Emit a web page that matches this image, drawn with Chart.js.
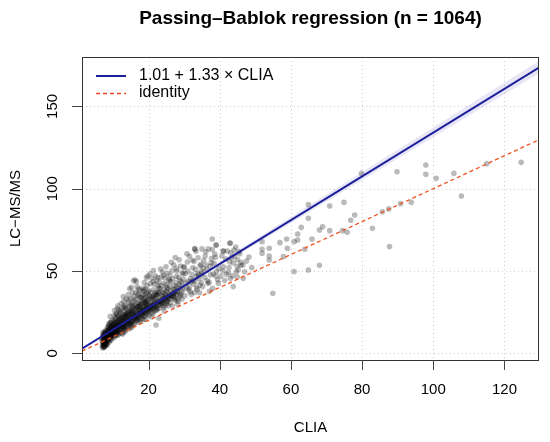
<!DOCTYPE html>
<html>
<head>
<meta charset="utf-8">
<script src="https://cdn.jsdelivr.net/npm/chart.js@4/dist/chart.umd.min.js"></script>
<style>
html,body{margin:0;padding:0;background:#fff;}
canvas{display:block;}
</style>
</head>
<body>
<canvas id="c" width="550" height="442"></canvas>
<script>
// ---- data ----
const clia = [
 7.0,7.2,7.4,7.1,7.6,7.8,7.3,7.5,7.9,7.7,
 7.2,7.4,7.6,7.8,8.0,7.1,7.3,7.5,7.7,7.9,
 6.9,7.0,7.3,7.6,7.8,8.0,7.4,7.2,7.7,7.5,
 7.1,7.4,7.9,7.6,7.3,7.8,8.0,7.5,7.2,7.7,
 8.2,8.4,8.6,8.8,9.0,9.2,9.4,9.6,9.8,8.3,
 8.5,8.7,8.9,9.1,9.3,9.5,9.7,9.9,8.1,8.6,
 8.8,9.0,9.2,9.4,9.6,9.8,8.4,8.2,9.1,9.5,
 8.3,8.7,9.3,9.7,9.9,8.9,8.5,9.0,9.6,9.4,
 8.1,8.6,9.2,9.8,8.4,9.0,9.5,8.8,9.3,9.9,
 10.1,10.3,10.5,10.7,10.9,11.1,11.3,11.5,11.7,11.9,
 10.2,10.4,10.6,10.8,11.0,11.2,11.4,11.6,11.8,10.0,
 10.3,10.8,11.3,11.8,10.5,11.0,11.5,10.1,10.6,11.1,
 10.4,10.9,11.4,11.9,10.2,10.7,11.2,11.7,10.0,11.6,
 10.6,11.1,11.6,10.3,10.8,11.3,11.8,11.4,10.9,11.0,
 12.1,12.3,12.5,12.7,12.9,13.1,13.3,13.5,13.7,13.9,
 12.2,12.4,12.6,12.8,13.0,13.2,13.4,13.6,13.8,12.0,
 12.3,12.8,13.3,13.8,12.5,13.0,13.5,12.6,13.1,13.6,
 12.4,12.9,13.4,13.9,12.1,12.7,13.2,13.7,12.2,13.0,
 12.7,13.4,12.9,13.6,13.3,
 14.1,14.3,14.5,14.7,14.9,15.1,15.3,15.5,15.7,15.9,
 14.2,14.4,14.6,14.8,15.0,15.2,15.4,15.6,15.8,14.0,
 14.3,14.8,15.3,15.8,14.5,15.0,15.5,14.6,15.1,15.6,
 14.4,14.9,15.4,15.9,14.2,14.7,15.2,15.7,14.1,15.0,
 16.1,16.3,16.5,16.7,16.9,17.1,17.3,17.5,17.7,17.9,
 16.2,16.4,16.6,16.8,17.0,17.2,17.4,17.6,17.8,16.0,
 16.3,16.8,17.3,17.8,16.5,17.0,17.5,16.6,17.1,17.6,
 16.4,16.9,17.4,17.9,16.2,16.7,17.2,17.7,15.8,15.2,
 18.1,18.3,18.5,18.7,18.9,19.1,19.3,19.5,19.7,19.9,
 18.2,18.4,18.6,18.8,19.0,19.2,19.4,19.6,19.8,18.0,
 18.3,18.8,19.3,19.8,18.5,19.0,19.5,18.6,19.1,19.6,
 18.4,18.9,19.4,19.9,18.2,18.7,19.2,19.7,18.6,19.4,
 20.1,20.4,20.7,21.0,21.3,21.6,21.9,22.2,22.5,22.8,
 20.2,20.5,20.8,21.1,21.4,21.7,22.0,22.3,22.6,22.9,
 20.3,20.9,21.5,22.1,22.7,20.6,21.2,21.8,22.4,20.0,
 20.4,21.0,21.6,22.2,22.8,20.7,21.3,21.9,22.5,21.1,
 22.1,22.9,21.4,20.8,22.6,
 23.1,23.4,23.7,24.0,24.3,24.6,24.9,25.2,25.5,25.8,
 23.2,23.5,23.8,24.1,24.4,24.7,25.0,25.3,25.6,25.9,
 23.3,23.9,24.5,25.1,25.7,23.6,24.2,24.8,25.4,23.0,
 23.4,24.0,24.6,25.2,25.8,23.7,24.3,24.9,25.5,24.4,
 26.1,26.5,26.9,27.3,27.7,28.1,28.5,28.9,29.3,29.7,
 26.2,26.6,27.0,27.4,27.8,28.2,28.6,29.0,29.4,29.8,
 26.3,27.1,27.9,28.7,29.5,26.8,27.6,28.4,29.2,26.0,
 26.4,27.2,28.0,28.8,29.6,27.0,27.8,28.6,29.4,28.2,
 27.5,28.3,29.1,26.7,29.9,
 30.2,30.7,31.2,31.7,32.2,32.7,33.2,33.7,34.2,34.7,
 30.4,30.9,31.4,31.9,32.4,32.9,33.4,33.9,34.4,34.9,
 30.5,31.5,32.5,33.5,34.5,31.0,32.0,33.0,34.0,30.0,
 30.8,31.8,32.8,33.8,34.8,31.3,32.3,33.3,34.3,33.0,
 35.2,35.8,36.4,37.0,37.6,38.2,38.8,39.4,36.1,37.3,
 35.5,36.7,37.9,39.1,35.0,36.2,37.4,38.6,39.8,38.0,
 35.9,37.1,38.4,39.6,36.5,37.7,38.9,35.4,39.0,36.8,
 40.3,41.0,41.7,42.4,43.1,43.8,44.5,45.2,40.6,41.4,
 42.1,42.8,43.5,44.2,44.9,45.6,40.9,41.9,43.0,44.0,
 45.0,45.9,41.0,42.9,44.6,43.3,46.0,45.4,42.6,44.9,
 46.5,47.5,47.0,46.6,48.2,49.0,43.8,
 8.5,9.0,9.5,10.0,10.5,11.0,11.5,12.0,12.5,13.0,
 13.5,14.0,14.5,15.0,15.5,16.0,16.5,17.0,17.5,18.0,
 18.5,19.0,19.5,20.0,20.5,21.0,21.5,22.0,22.5,23.0,
 23.5,24.0,24.5,25.0,25.5,26.0,26.5,27.0,27.5,28.0,
 8.3,8.8,9.3,9.8,10.3,10.8,11.3,11.8,12.3,12.8,
 13.3,13.8,14.3,14.8,15.3,15.8,16.3,16.8,17.3,17.8,
 18.3,18.8,19.3,19.8,20.3,20.8,21.3,21.8,22.3,22.8,
 23.3,23.8,24.3,24.8,25.3,25.8,26.3,26.8,27.3,27.8,
 8.6,9.1,9.6,10.1,10.6,11.1,11.6,12.1,12.6,13.1,
 13.6,14.1,14.6,15.1,15.6,16.1,16.6,17.1,17.6,18.1,
 18.6,19.1,19.6,20.1,20.6,21.1,21.6,22.1,22.6,23.1,
 7.6,7.8,8.0,8.2,7.4,7.9,8.1,7.7,8.3,7.5,
 124.7,115.0,105.8,107.9,100.8,97.9,97.9,89.8,93.8,90.8,
 87.5,85.7,82.9,87.7,79.8,74.9,70.9,77.9,76.8,75.8,
 74.5,70.9,68.9,68.0,65.9,64.9,64.9,62.9,61.9,61.9,
 60.9,58.8,59.0,56.9,57.9,63.9,64.9,68.0,60.9,53.9,
 53.9,53.9,51.9,51.9,51.9,54.9,42.9,37.9,39.0,33.0,
 35.0,41.0
];
const lcmsms = [
 4.1,5.3,6.8,8.2,3.6,5.9,9.7,7.4,4.8,11.2,
 6.2,3.9,9.1,7.0,5.2,10.4,4.6,12.1,8.8,6.1,
 7.5,9.0,11.0,4.4,13.0,8.0,6.0,10.6,9.9,5.4,
 3.2,8.5,10.1,12.6,5.7,7.2,14.0,3.8,12.8,6.6,
 6.4,9.5,12.2,8.0,14.6,10.3,11.8,16.2,13.4,4.9,
 11.0,7.3,15.9,9.2,13.0,17.8,10.6,12.4,8.6,14.1,
 18.0,6.9,12.7,15.3,9.6,20.1,5.6,10.8,11.3,14.0,
 13.2,16.5,8.4,12.0,16.9,10.0,7.7,17.2,11.5,19.0,
 9.8,12.9,22.4,15.0,15.5,13.6,8.1,11.6,18.7,10.9,
 12.3,14.8,10.2,17.5,13.6,19.2,15.1,11.4,16.8,21.0,
 9.4,16.0,20.6,12.9,14.7,10.8,18.3,13.9,24.5,15.6,
 22.8,11.7,13.0,17.1,18.8,23.6,20.2,13.1,15.4,12.6,
 25.9,15.9,16.6,14.4,17.9,21.5,27.2,18.9,11.0,22.0,
 14.1,12.2,26.3,19.6,10.9,22.9,12.5,28.8,24.1,17.0,
 14.2,17.6,12.1,19.8,15.3,22.1,16.7,13.8,20.4,18.2,
 24.6,15.0,27.3,13.2,17.9,25.5,29.1,21.0,15.4,20.9,
 30.2,22.6,12.9,24.0,18.9,31.4,23.7,16.3,19.4,26.8,
 21.8,16.1,27.9,17.3,26.0,23.4,14.6,33.0,18.0,28.4,
 11.7,20.0,34.5,22.7,15.9,
 16.2,19.4,22.8,17.6,25.3,20.1,15.8,23.6,28.0,21.2,
 27.2,30.5,18.4,21.7,33.2,26.3,19.0,31.0,17.4,24.4,
 35.6,28.7,24.2,19.9,14.7,22.3,36.8,26.1,29.5,25.0,
 32.3,15.6,28.9,34.4,20.6,39.2,17.1,23.0,23.5,18.1,
 18.3,21.6,25.2,19.7,27.9,23.0,30.8,20.9,26.4,33.6,
 29.1,37.0,22.1,24.7,35.3,18.9,28.2,38.4,22.8,31.9,
 24.2,40.3,26.6,29.7,33.0,21.4,25.8,43.5,36.1,19.6,
 27.0,30.3,34.2,24.9,44.6,20.2,39.0,28.6,44.0,40.0,
 21.0,24.3,27.6,22.5,30.9,26.1,33.8,23.7,29.4,36.7,
 32.0,39.6,25.1,28.3,35.2,20.7,31.1,41.2,27.0,34.1,
 26.8,43.0,29.9,24.4,37.5,22.6,28.7,33.1,39.0,25.6,
 35.6,27.4,45.8,31.8,23.2,38.3,30.2,46.9,20.4,36.0,
 23.1,27.0,30.5,24.9,34.1,28.3,37.0,26.2,32.2,39.6,
 35.0,42.3,27.8,31.2,38.6,25.5,33.8,44.1,29.3,36.4,
 29.5,45.5,32.6,27.1,40.8,36.9,24.0,30.9,35.1,38.1,
 48.2,33.2,41.9,35.7,31.4,26.5,43.5,47.0,26.8,29.0,
 17.2,21.3,50.3,22.0,46.0,
 27.4,31.0,35.2,29.0,38.7,33.1,41.6,30.4,36.8,44.0,
 39.5,46.1,32.0,34.6,42.5,28.8,37.7,48.8,33.5,40.7,
 33.7,49.3,36.2,31.5,44.9,41.0,27.9,35.4,39.2,43.1,
 51.2,37.0,45.8,39.9,34.8,30.7,47.3,52.6,28.9,25.6,
 30.6,35.1,39.0,33.0,42.8,37.3,46.0,34.5,40.9,48.3,
 43.6,50.2,36.2,38.8,46.7,32.9,41.8,53.0,37.6,44.9,
 37.9,53.6,40.3,35.6,49.0,45.2,32.0,39.4,43.3,47.3,
 55.3,41.1,50.0,44.1,39.0,34.8,51.4,56.8,33.0,29.8,
 58.2,31.6,36.0,28.7,52.4,
 35.0,39.6,43.7,37.4,47.9,42.0,51.0,38.8,45.6,54.0,
 48.5,55.4,40.2,43.3,51.9,36.9,46.6,58.0,41.4,49.8,
 42.6,58.9,44.5,39.8,53.1,50.0,35.8,43.9,47.7,52.3,
 60.5,45.4,55.7,48.6,43.0,38.6,56.5,62.0,36.8,63.4,
 40.5,46.0,50.7,43.2,55.0,48.1,58.3,44.6,61.7,52.9,
 56.3,42.4,63.0,49.7,48.4,53.6,47.6,60.2,51.5,39.4,
 59.1,37.6,54.6,42.6,44.0,57.5,46.9,51.7,65.8,63.4,
 46.8,52.5,57.3,49.0,61.0,54.9,64.5,50.6,59.2,44.3,
 62.1,55.6,47.1,58.8,52.8,60.4,50.0,48.0,45.5,62.7,
 56.8,53.4,62.1,67.0,49.5,58.0,55.3,61.8,52.0,46.4,
 53.6,56.0,49.5,45.5,58.5,52.0,40.5,
 10.5,12.0,13.1,14.2,14.9,15.8,16.4,17.3,18.1,18.6,
 19.5,20.0,21.0,21.6,22.3,22.9,23.6,24.0,24.8,25.4,
 26.0,26.7,27.3,28.0,28.4,29.2,29.6,30.3,31.0,31.5,
 32.2,32.6,33.4,34.0,34.5,35.3,35.8,36.4,37.2,37.6,
 8.9,11.3,10.7,12.8,11.9,13.7,14.0,15.2,15.9,16.0,
 17.0,18.3,18.0,19.6,19.2,20.8,21.0,22.3,22.0,23.5,
 23.6,25.0,24.9,26.2,26.0,27.4,27.0,28.6,28.2,29.8,
 29.4,30.9,30.6,32.1,31.8,33.2,33.0,34.5,34.1,35.6,
 13.8,15.1,16.0,17.2,17.7,18.9,19.8,20.5,21.4,22.0,
 22.9,23.8,24.5,25.7,26.2,27.0,28.1,28.5,29.6,30.2,
 30.8,31.7,32.5,33.1,34.0,34.6,35.3,36.0,36.9,37.4,
 9.3,6.5,11.8,8.4,10.2,5.0,7.9,12.0,10.0,8.9,
 116.0,115.2,109.3,95.5,106.3,114.4,108.7,110.3,91.7,90.9,
 87.7,86.0,75.9,64.8,109.3,91.7,89.5,84.0,80.8,73.5,
 74.5,74.5,76.9,74.9,69.4,90.3,82.0,76.5,72.5,68.8,
 67.8,69.4,63.8,67.2,58.7,63.2,50.6,53.4,49.6,63.8,
 59.1,56.7,67.8,63.2,60.7,36.4,66.8,69.4,65.8,63.4,
 63.4,62.1
];
const xTicks = [20, 40, 60, 80, 100, 120];
const yTicks = [0, 50, 100, 150];
const xRange = [1.3, 129.7];
const yRange = [-4.1, 180];
const pbIntercept = 1.01;
const pbSlope = 1.33;
const bandX = [1.3, 129.7];
const bandLower = [2.5, 170.1];
const bandUpper = [3.0, 177.6];
const titleText = "Passing\u2013Bablok regression (n = 1064)";
const xTitle = "CLIA";
const yTitle = "LC\u2212MS/MS";
const legendLabels = ["1.01 + 1.33 \u00d7 CLIA", "identity"];

// ---- colours ----
const BLUE = "#1b1f9a";
const RED = "#f0501e";

const pts = clia.map((x, i) => ({x: x, y: lcmsms[i]}));
const regLine = xRange.map(x => ({x: x, y: pbIntercept + pbSlope * x}));
const idLine = xRange.map(x => ({x: x, y: x}));
const bandLo = bandX.map((x, i) => ({x: x, y: bandLower[i]}));
const bandHi = bandX.map((x, i) => ({x: x, y: bandUpper[i]}));

const FONT = "'Liberation Sans', Arial, Helvetica, sans-serif";

const decor = {
  id: 'decor',
  beforeDatasetsDraw(chart) {
    const ctx = chart.ctx, a = chart.chartArea;
    const xs = chart.scales.x, ys = chart.scales.y;
    ctx.save();
    ctx.strokeStyle = '#cfcfcf';
    ctx.lineWidth = 1;
    ctx.setLineDash([1, 3]);
    xTicks.forEach(v => {
      const px = Math.round(xs.getPixelForValue(v)) + 0.5;
      ctx.beginPath(); ctx.moveTo(px, a.top); ctx.lineTo(px, a.bottom); ctx.stroke();
    });
    yTicks.forEach(v => {
      const py = Math.round(ys.getPixelForValue(v)) + 0.5;
      ctx.beginPath(); ctx.moveTo(a.left, py); ctx.lineTo(a.right, py); ctx.stroke();
    });
    ctx.restore();
  },
  afterDraw(chart) {
    const ctx = chart.ctx, a = chart.chartArea;
    const xs = chart.scales.x, ys = chart.scales.y;
    ctx.save();
    // box
    ctx.setLineDash([]);
    ctx.strokeStyle = '#333';
    ctx.lineWidth = 1;
    ctx.strokeRect(a.left + 0.5, a.top + 0.5, a.right - a.left - 1, a.bottom - a.top);
    // ticks
    ctx.strokeStyle = '#444';
    xTicks.forEach(v => {
      const px = Math.round(xs.getPixelForValue(v)) + 0.5;
      ctx.beginPath(); ctx.moveTo(px, a.bottom); ctx.lineTo(px, a.bottom + 10); ctx.stroke();
    });
    yTicks.forEach(v => {
      const py = Math.round(ys.getPixelForValue(v)) + 0.5;
      ctx.beginPath(); ctx.moveTo(a.left, py); ctx.lineTo(a.left - 10, py); ctx.stroke();
    });
    // tick labels
    ctx.fillStyle = '#000';
    ctx.font = '15px ' + FONT;
    ctx.textAlign = 'center';
    ctx.textBaseline = 'middle';
    xTicks.forEach(v => {
      ctx.fillText(String(v), xs.getPixelForValue(v), 390);
    });
    yTicks.forEach(v => {
      ctx.save();
      ctx.translate(53, ys.getPixelForValue(v));
      ctx.rotate(-Math.PI / 2);
      ctx.fillText(String(v), 0, 0);
      ctx.restore();
    });
    // axis titles
    ctx.fillText(xTitle, (a.left + a.right) / 2, 428);
    ctx.save();
    ctx.translate(16, (a.top + a.bottom) / 2);
    ctx.rotate(-Math.PI / 2);
    ctx.fillText(yTitle, 0, 0);
    ctx.restore();
    // main title
    ctx.font = 'bold 19px ' + FONT;
    ctx.fillText(titleText, (a.left + a.right) / 2, 19);
    // legend
    ctx.font = '16px ' + FONT;
    ctx.textAlign = 'left';
    ctx.strokeStyle = BLUE; ctx.lineWidth = 2;
    ctx.beginPath(); ctx.moveTo(96, 76); ctx.lineTo(126, 76); ctx.stroke();
    ctx.strokeStyle = RED; ctx.lineWidth = 1.3; ctx.setLineDash([4, 3]);
    ctx.beginPath(); ctx.moveTo(96, 93.5); ctx.lineTo(126, 93.5); ctx.stroke();
    ctx.setLineDash([]);
    ctx.fillText(legendLabels[0], 139, 76);
    ctx.fillText(legendLabels[1], 139, 93);
    ctx.restore();
  }
};

new Chart(document.getElementById('c'), {
  type: 'scatter',
  data: {
    datasets: [
      { data: bandLo, showLine: true, borderWidth: 0, pointRadius: 0, fill: false, order: 3 },
      { data: bandHi, showLine: true, borderWidth: 0, pointRadius: 0,
        fill: '-1', backgroundColor: 'rgba(140,125,210,0.2)', order: 3 },
      { data: pts, pointRadius: 2.8, pointBackgroundColor: 'rgba(0,0,0,0.27)',
        pointBorderWidth: 0, borderWidth: 0, order: 2 },
      { data: idLine, showLine: true, borderColor: RED, borderWidth: 1.3,
        borderDash: [4, 3], pointRadius: 0, order: 1 },
      { data: regLine, showLine: true, borderColor: BLUE, borderWidth: 2,
        pointRadius: 0, order: 0 }
    ]
  },
  options: {
    responsive: false,
    animation: false,
    devicePixelRatio: 1,
    layout: { padding: { left: 82, right: 11, top: 57, bottom: 82 } },
    plugins: { legend: { display: false }, tooltip: { enabled: false }, title: { display: false } },
    scales: {
      x: { type: 'linear', min: xRange[0], max: xRange[1], display: false },
      y: { type: 'linear', min: yRange[0], max: yRange[1], display: false }
    }
  },
  plugins: [decor]
});
</script>
</body>
</html>
